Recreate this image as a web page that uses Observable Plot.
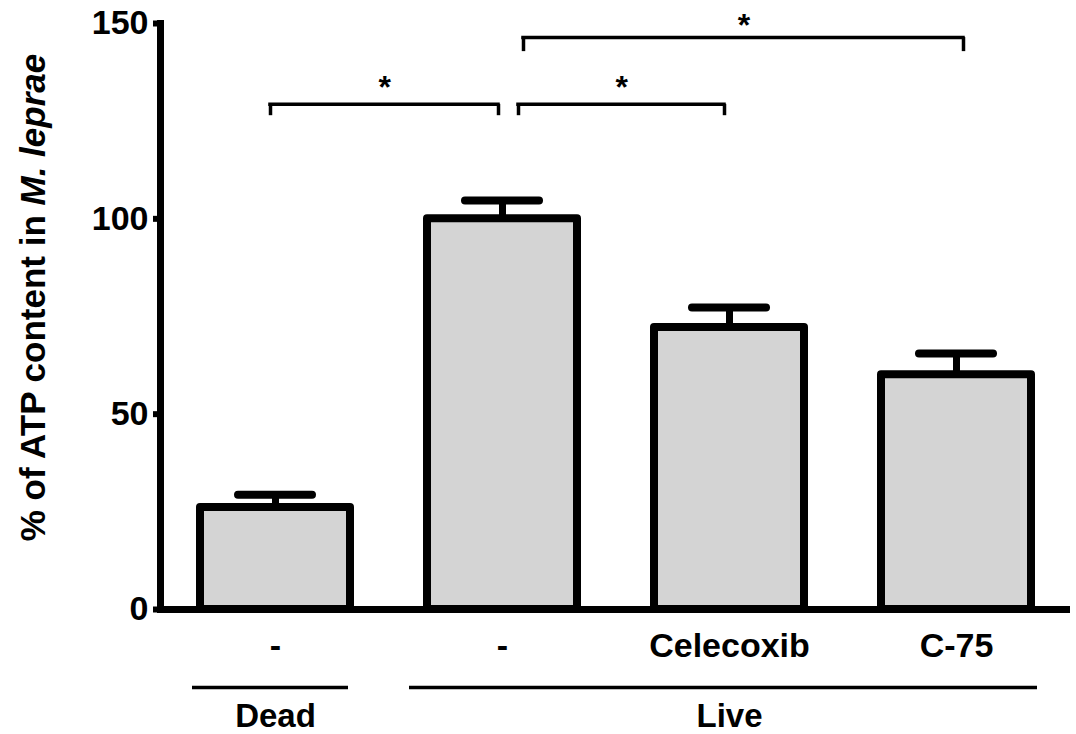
<!DOCTYPE html>
<html>
<head>
<meta charset="utf-8">
<script src="https://cdn.jsdelivr.net/npm/d3@7"></script>
<script src="https://cdn.jsdelivr.net/npm/@observablehq/plot@0.6"></script>
<style>
  html, body { margin: 0; padding: 0; background: #fff; }
  #chart svg { display: block; }
</style>
</head>
<body>
<div id="chart"></div>
<script>
// ---- data ----
const categories = ["dead", "live", "cele", "c75"];
const tickLabels = ["-", "-", "Celecoxib", "C-75"];
const atpMean = [26.1, 100, 72.2, 60.1];
const atpSem = [3.3, 4.7, 5.1, 5.4];

const groupNames = ["Dead", "Live"];
const groupFrom = ["dead", "live"];
const groupTo = ["dead", "c75"];
const groupLabelAt = ["dead", "cele"];

const bracketFrom = ["dead", "live", "live"];
const bracketTo = ["live", "cele", "c75"];
const bracketY = [129.3, 129.3, 146.4];
const bracketFoot = [126.4, 126.4, 142.8];
const bracketMark = ["*", "*", "*"];

const yTitle = "% of ATP content in M. leprae";
const yTicks = [0, 50, 100, 150];

// ---- layout / style ----
const W = 1076, H = 734;
const mL = 160, mR = 6, mT = 23, mB = 125;
const padIn = 0.3407, padOut = 0.1703;
const font = "'Liberation Sans', Arial, Helvetica, sans-serif";
// per-bracket pixel nudges [left end, right end, star gap]
const bracketNudge = [[-5, -4, 17], [16, -5, 17], [21, 7, 12]];
const groupInset = [[-8, 2], [-18, -6]];

const rows = categories.map((c, i) => ({cat: c, mean: atpMean[i], sem: atpSem[i]}));
const labelOf = Object.fromEntries(categories.map((c, i) => [c, tickLabels[i]]));

const xs = Plot.scale({x: {type: "band", domain: categories, range: [mL, W - mR], paddingInner: padIn, paddingOuter: padOut}});
const bw = xs.bandwidth;

const marks = [
  Plot.barY(rows, {x: "cat", y: "mean", fill: "#d4d4d4", stroke: "black", strokeWidth: 8, strokeLinejoin: "round"}),
  Plot.ruleX(rows, {x: "cat", y1: "mean", y2: d => d.mean + d.sem, stroke: "black", strokeWidth: 7}),
  Plot.tickY(rows, {x: "cat", y: d => d.mean + d.sem, insetLeft: 38, insetRight: 38, stroke: "black", strokeWidth: 8, strokeLinecap: "round"}),
  Plot.frame({anchor: "left", stroke: "black", strokeWidth: 7}),
  Plot.ruleY([0], {stroke: "black", strokeWidth: 7}),
  Plot.axisY({ticks: yTicks, tickSize: 7, tickPadding: 5, strokeWidth: 6, fontSize: 34, fontWeight: "bold", label: null}),
  Plot.axisX({tickSize: 0, tickPadding: 23, fontSize: 34, fontWeight: "bold", label: null, tickFormat: d => labelOf[d]}),
  Plot.text([yTitle], {text: d => d, frameAnchor: "left", textAnchor: "middle", lineAnchor: "middle", rotate: -90, dx: -127, dy: -19, fontSize: 35, fontWeight: "bold"}),
  Plot.text(groupNames.map((n, i) => ({name: n, at: groupLabelAt[i]})), {x: "at", text: "name", frameAnchor: "bottom", lineAnchor: "middle", dy: 107, fontSize: 33, fontWeight: "bold"})
];

groupNames.forEach((n, i) => {
  marks.push(Plot.ruleY([i], {x1: () => groupFrom[i], x2: () => groupTo[i], y: () => 0, dy: 78,
    insetLeft: groupInset[i][0], insetRight: groupInset[i][1], stroke: "black", strokeWidth: 3.5}));
});

bracketFrom.forEach((a, i) => {
  const b = bracketTo[i];
  const [l, r, g] = bracketNudge[i];
  marks.push(
    Plot.ruleY([i], {x1: () => a, x2: () => b, y: () => bracketY[i], insetLeft: bw / 2 + l, insetRight: bw / 2 - r,
      stroke: "black", strokeWidth: 3.5, strokeLinecap: "square"}),
    Plot.ruleX([i], {x: () => a, y1: () => bracketFoot[i], y2: () => bracketY[i], dx: l, stroke: "black", strokeWidth: 3.5}),
    Plot.ruleX([i], {x: () => b, y1: () => bracketFoot[i], y2: () => bracketY[i], dx: r, stroke: "black", strokeWidth: 3.5}),
    Plot.text([i], {x: () => a, y: () => bracketY[i], text: () => bracketMark[i],
      dx: (xs.apply(b) - xs.apply(a)) / 2 + (l + r) / 2, dy: -g, fontSize: 32, fontWeight: "bold"})
  );
});

const chart = Plot.plot({
  width: W, height: H,
  marginLeft: mL, marginRight: mR, marginTop: mT, marginBottom: mB,
  style: {fontFamily: font, background: "white", color: "black"},
  x: {type: "band", domain: categories, paddingInner: padIn, paddingOuter: padOut},
  y: {domain: [0, 150]},
  marks
});

// italic species name in the y title
chart.querySelectorAll("text").forEach(t => {
  if (t.textContent === yTitle) {
    const ns = "http://www.w3.org/2000/svg";
    t.textContent = "";
    const a = document.createElementNS(ns, "tspan");
    a.textContent = "% of ATP content in ";
    const b = document.createElementNS(ns, "tspan");
    b.setAttribute("font-style", "italic");
    b.textContent = "M. leprae";
    t.append(a, b);
  }
});

document.getElementById("chart").append(chart);
</script>
</body>
</html>
